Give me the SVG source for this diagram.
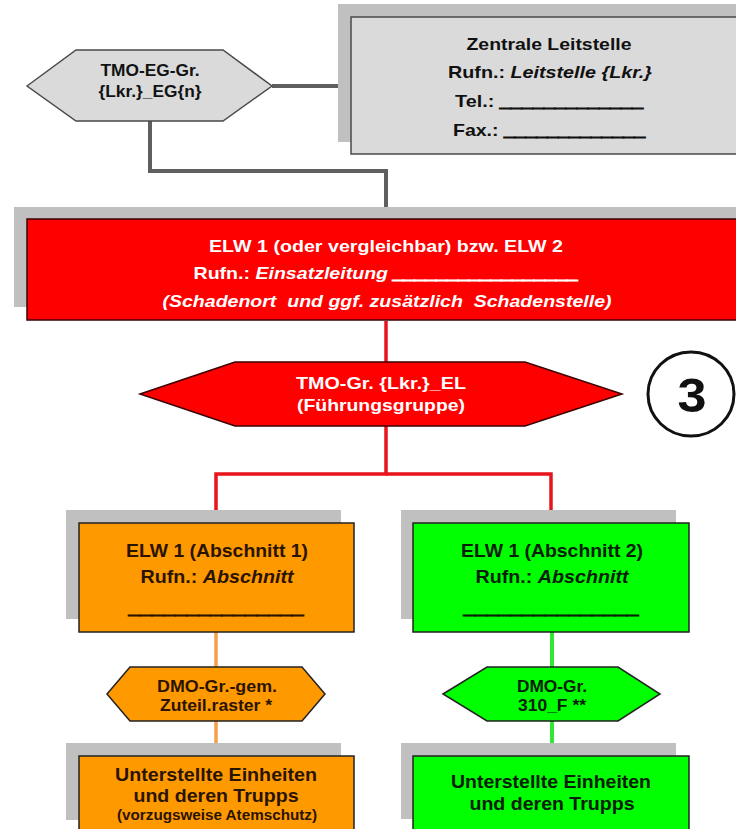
<svg xmlns="http://www.w3.org/2000/svg" width="736" height="829" viewBox="0 0 736 829">
<style>
text{font-family:"Liberation Sans",Arial,sans-serif;font-weight:bold;text-anchor:middle;white-space:pre}
.it{font-style:italic}
.ul{stroke-width:1.2}
.shadow{fill:#c0c0c0}
.gray{fill:#dadada;stroke:#4a4a4a;stroke-width:1.5}
.red{fill:#ff0000;stroke:#3a0000;stroke-width:1.5}
.orange{fill:#ff9900;stroke:#222;stroke-width:1.5}
.green{fill:#00ff00;stroke:#222;stroke-width:1.5}
.tk{fill:#111;stroke:#111}
.tw{fill:#fff;stroke:#fff}
.to{fill:#2a1400;stroke:#2a1400}
.tg{fill:#062006;stroke:#062006}
text{stroke-width:0}
.cg{fill:none;stroke:#5f5f5f;stroke-width:4}
.cr{fill:none;stroke:#e8141c;stroke-width:3.5}
.co{fill:none;stroke:#f5a048;stroke-width:3.5}
.cgr{fill:none;stroke:#33e633;stroke-width:4}
</style>
<rect width="736" height="829" fill="#fff"/>
<g id="connectors">
<path class="cg" d="M272,86 H351"/>
<path class="cg" d="M150,121 V171 H386 V219"/>
<path class="cr" d="M386,321 V362"/>
<path class="cr" d="M386,426 V474 H216 V523"/>
<path class="cr" d="M386,474 H551 V523"/>
<path class="co" d="M216,632 V667"/>
<path class="co" d="M216,721 V756"/>
<path class="cgr" d="M552,632 V667"/>
<path class="cgr" d="M552,721 V756"/>
</g>
<g id="tmo-eg">
<polygon class="gray" points="27,86 76,50 223,50 272,86 223,121 76,121"/>
<text x="150" y="76" font-size="16" class="tk" textLength="99" lengthAdjust="spacingAndGlyphs">TMO-EG-Gr.</text>
<text x="150" y="97" font-size="16" class="tk" textLength="103" lengthAdjust="spacingAndGlyphs">{Lkr.}_EG{n}</text>
</g>
<g id="leitstelle">
<rect class="shadow" x="338" y="4" width="410" height="138"/>
<rect class="gray" x="351" y="17" width="400" height="137"/>
<text x="549" y="50" font-size="17" class="tk" textLength="165" lengthAdjust="spacingAndGlyphs">Zentrale Leitstelle</text>
<text x="550" y="78" font-size="17" class="tk" textLength="204" lengthAdjust="spacingAndGlyphs">Rufn.: <tspan class="it">Leitstelle {Lkr.}</tspan></text>
<text x="549" y="107" font-size="17" class="tk" textLength="188" lengthAdjust="spacingAndGlyphs">Tel.: <tspan class="ul">_____________</tspan></text>
<text x="549" y="136" font-size="17" class="tk" textLength="192" lengthAdjust="spacingAndGlyphs">Fax.: <tspan class="ul">_____________</tspan></text>
</g>
<g id="elw-einsatzleitung">
<rect class="shadow" x="14" y="207" width="730" height="100"/>
<rect class="red" x="27" y="219" width="720" height="101"/>
<text x="386" y="252" font-size="17" class="tw" textLength="354" lengthAdjust="spacingAndGlyphs">ELW 1 (oder vergleichbar) bzw. ELW 2</text>
<text x="386" y="279" font-size="17" class="tw" textLength="385" lengthAdjust="spacingAndGlyphs">Rufn.: <tspan class="it">Einsatzleitung <tspan class="ul">_________________</tspan></tspan></text>
<text x="387" y="307" font-size="17" class="tw it" textLength="449" lengthAdjust="spacingAndGlyphs">(Schadenort  und ggf. zusätzlich  Schadenstelle)</text>
</g>
<g id="tmo-el">
<polygon class="red" points="140,394 235,362 525,362 622,394 525,426 235,426"/>
<text x="381" y="389" font-size="17" class="tw" textLength="170" lengthAdjust="spacingAndGlyphs">TMO-Gr. {Lkr.}_EL</text>
<text x="381" y="411" font-size="17" class="tw" textLength="168" lengthAdjust="spacingAndGlyphs">(Führungsgruppe)</text>
</g>
<g id="marker-3">
<ellipse cx="691" cy="394" rx="43" ry="42" fill="#fff" stroke="#111" stroke-width="3"/>
<text x="692" y="412" font-size="48" class="tk" textLength="29" lengthAdjust="spacingAndGlyphs">3</text>
</g>
<g id="abschnitt-1">
<rect class="shadow" x="66" y="510" width="275" height="109"/>
<rect class="orange" x="79" y="523" width="275" height="109"/>
<text x="217" y="557" font-size="19" class="to" textLength="182" lengthAdjust="spacingAndGlyphs">ELW 1 (Abschnitt 1)</text>
<text x="217" y="583" font-size="19" class="to" textLength="153" lengthAdjust="spacingAndGlyphs">Rufn.: <tspan class="it">Abschnitt</tspan></text>
<text x="216" y="614" font-size="19" class="to ul" textLength="175" lengthAdjust="spacingAndGlyphs">_______________</text>
</g>
<g id="abschnitt-2">
<rect class="shadow" x="401" y="510" width="275" height="109"/>
<rect class="green" x="413" y="523" width="276" height="109"/>
<text x="552" y="557" font-size="19" class="tg" textLength="182" lengthAdjust="spacingAndGlyphs">ELW 1 (Abschnitt 2)</text>
<text x="552" y="583" font-size="19" class="tg" textLength="153" lengthAdjust="spacingAndGlyphs">Rufn.: <tspan class="it">Abschnitt</tspan></text>
<text x="551" y="614" font-size="19" class="tg ul" textLength="175" lengthAdjust="spacingAndGlyphs">_______________</text>
</g>
<g id="dmo-1">
<polygon class="orange" points="107,694 130,667 302,667 325,694 302,721 130,721"/>
<text x="217" y="692" font-size="16" class="to" textLength="120" lengthAdjust="spacingAndGlyphs">DMO-Gr.-gem.</text>
<text x="216" y="711" font-size="16" class="to" textLength="112" lengthAdjust="spacingAndGlyphs">Zuteil.raster *</text>
</g>
<g id="dmo-2">
<polygon class="green" points="443,694 487,667 618,667 660,694 618,721 487,721"/>
<text x="552" y="692" font-size="16" class="tg" textLength="70" lengthAdjust="spacingAndGlyphs">DMO-Gr.</text>
<text x="552" y="711" font-size="16" class="tg" textLength="68" lengthAdjust="spacingAndGlyphs">310_F **</text>
</g>
<g id="einheiten-1">
<rect class="shadow" x="66" y="743" width="275" height="77"/>
<rect class="orange" x="79" y="756" width="275" height="90"/>
<text x="216" y="781" font-size="19" class="to" textLength="202" lengthAdjust="spacingAndGlyphs">Unterstellte Einheiten</text>
<text x="216" y="802" font-size="19" class="to" textLength="165" lengthAdjust="spacingAndGlyphs">und deren Trupps</text>
<text x="217" y="820" font-size="14" class="to" textLength="200" lengthAdjust="spacingAndGlyphs">(vorzugsweise Atemschutz)</text>
</g>
<g id="einheiten-2">
<rect class="shadow" x="401" y="743" width="275" height="76"/>
<rect class="green" x="413" y="756" width="276" height="90"/>
<text x="551" y="788" font-size="19" class="tg" textLength="200" lengthAdjust="spacingAndGlyphs">Unterstellte Einheiten</text>
<text x="552" y="810" font-size="19" class="tg" textLength="165" lengthAdjust="spacingAndGlyphs">und deren Trupps</text>
</g>
</svg>
